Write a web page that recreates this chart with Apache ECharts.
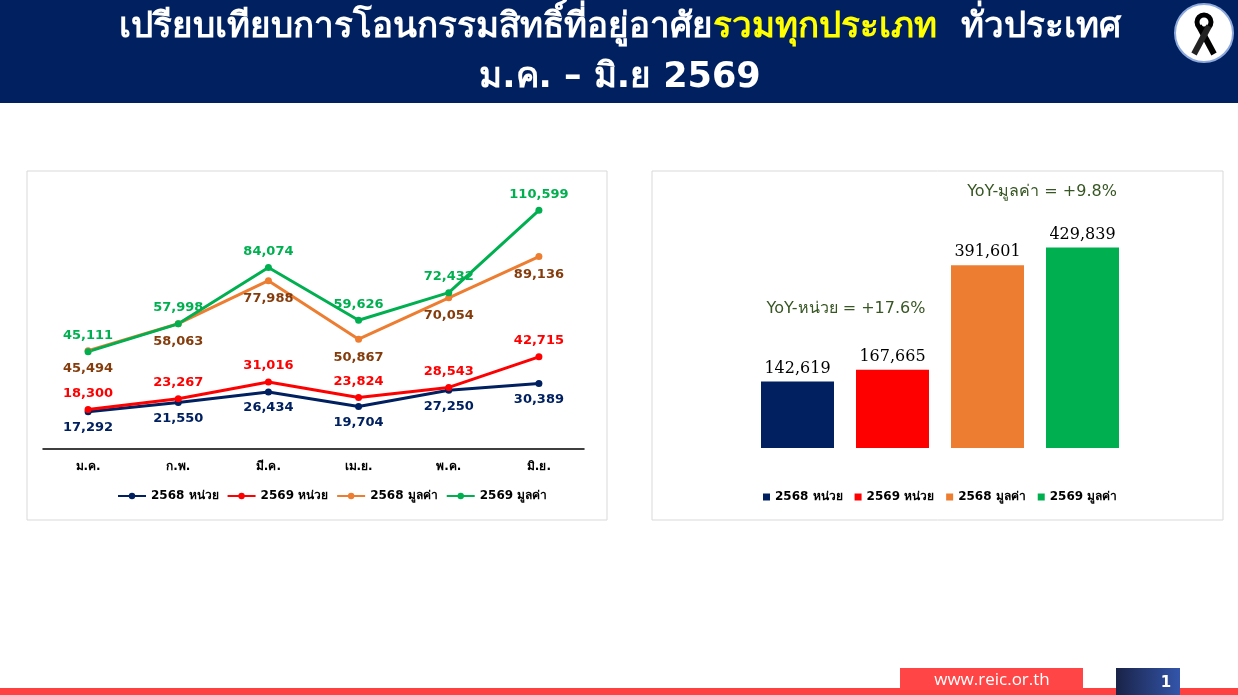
<!DOCTYPE html><html><head><meta charset="utf-8">
<script src="https://cdn.jsdelivr.net/npm/echarts@6/dist/echarts.min.js"></script>
<style>body{margin:0}#c{width:1238px;height:695px}</style></head><body><div id="c"></div><script>
const months=['ม.ค.','ก.พ.','มี.ค.','เม.ย.','พ.ค.','มิ.ย.'];
const units2568=[17292,21550,26434,19704,27250,30389];
const units2569=[18300,23267,31016,23824,28543,42715];
const value2568=[45494,58063,77988,50867,70054,89136];
const value2569=[45111,57998,84074,59626,72432,110599];
const totalNames=['2568 หน่วย','2569 หน่วย','2568 มูลค่า','2569 มูลค่า'];
const totals=[142619,167665,391601,429839];
const colors=['#002060','#ff0000','#ed7d31','#00b050'];
const labelColors=['#002060','#ff0000','#843c0c','#00b050'];
const F='Tahoma, "DejaVu Sans", sans-serif';
const c=echarts.init(document.getElementById('c'));
const lineSeries=[units2568,units2569,value2568,value2569].map((d,i)=>({
 name:totalNames[i],type:'line',data:d,xAxisIndex:0,yAxisIndex:0,symbol:'circle',symbolSize:7,
 lineStyle:{width:3,color:colors[i]},itemStyle:{color:colors[i]},
 label:{show:true,position:(i%2==0)?'bottom':'top',distance:(i==2?8:6),color:labelColors[i],fontFamily:F,fontSize:13,fontWeight:'bold',formatter:p=>p.value.toLocaleString('en-US')}
}));
const barSeries=totals.map((v,i)=>({
 name:totalNames[i]+' ',type:'bar',xAxisIndex:1,yAxisIndex:1,stack:'b',barWidth:73,
 data:totals.map((x,j)=>j==i?x:'-'),itemStyle:{color:colors[i]},
 label:{show:true,position:'top',color:'#000',fontFamily:'"DejaVu Serif", serif',fontSize:16,formatter:p=>p.value.toLocaleString('en-US')}
}));
c.setOption({
 animation:false,
 graphic:[
  {type:'rect',shape:{x:0,y:0,width:1238,height:103},style:{fill:'#002060'}},
  {type:'text',x:620,y:28,style:{rich:{w:{fill:'#fff',fontSize:35,fontWeight:'bold',fontFamily:F},y:{fill:'#ffff00',fontSize:35,fontWeight:'bold',fontFamily:F}},text:'{w|เปรียบเทียบการโอนกรรมสิทธิ์ที่อยู่อาศัย}{y|รวมทุกประเภท}{w|  ทั่วประเทศ}',align:'center',verticalAlign:'middle'}},
  {type:'text',x:620,y:78,style:{text:'ม.ค. – มิ.ย 2569',fill:'#fff',fontSize:35,fontWeight:'bold',fontFamily:F,align:'center',verticalAlign:'middle'}},
  {type:'circle',shape:{cx:1204,cy:33,r:29},style:{fill:'#fff',stroke:'#8ea9db',lineWidth:2}},
  {type:'circle',shape:{cx:1204,cy:22,r:7},style:{fill:'none',stroke:'#000',lineWidth:5}},
  {type:'polyline',shape:{points:[[1199,26],[1214,54]]},style:{stroke:'#000',lineWidth:6}},
  {type:'polyline',shape:{points:[[1209,26],[1194,54]]},style:{stroke:'#222',lineWidth:6}},
  {type:'rect',shape:{x:27,y:171,width:580,height:349},style:{fill:'none',stroke:'#d9d9d9',lineWidth:1}},
  {type:'rect',shape:{x:652,y:171,width:571,height:349},style:{fill:'none',stroke:'#d9d9d9',lineWidth:1}},
  {type:'text',x:1042,y:192,style:{text:'YoY-มูลค่า = +9.8%',fill:'#375623',fontSize:16,fontFamily:F,align:'center',verticalAlign:'middle'}},
  {type:'text',x:846,y:309,style:{text:'YoY-หน่วย = +17.6%',fill:'#375623',fontSize:16,fontFamily:F,align:'center',verticalAlign:'middle'}},
  {type:'rect',shape:{x:0,y:688,width:1238,height:7},style:{fill:'#ff4040'}},
  {type:'rect',shape:{x:900,y:668,width:183,height:22},style:{fill:'#ff4545'}},
  {type:'text',x:992,y:680,style:{text:'www.reic.or.th',fill:'#fff',fontSize:17,fontFamily:'"Open Sans", sans-serif',align:'center',verticalAlign:'middle'}},
  {type:'rect',shape:{x:1116,y:668,width:64,height:27},style:{fill:{type:'linear',x:0,y:0,x2:1,y2:0,colorStops:[{offset:0,color:'#1a2348'},{offset:1,color:'#3355aa'}]}}},
  {type:'text',x:1166,y:683,style:{text:'1',fill:'#fff',fontSize:15,fontWeight:'bold',fontFamily:F,align:'center',verticalAlign:'middle'}}
 ],
 legend:[
  {data:totalNames,left:112,top:485,itemWidth:28,itemHeight:8,itemGap:8,textStyle:{fontFamily:F,fontSize:12,fontWeight:'bold',color:'#000'},itemStyle:{borderWidth:0}},
  {data:totalNames.map(n=>n+' '),left:758,top:486,itemWidth:7,itemHeight:7,itemGap:12,icon:'rect',textStyle:{fontFamily:F,fontSize:12,fontWeight:'bold',color:'#000'},formatter:n=>n.trim()}
 ],
 grid:[{left:43,right:654,top:190,bottom:246},{left:750,right:108,top:238,bottom:247}],
 xAxis:[{type:'category',gridIndex:0,data:months,axisTick:{show:false},axisLine:{lineStyle:{color:'#000',width:1.5}},axisLabel:{margin:12,color:'#000',fontFamily:F,fontSize:12,fontWeight:'bold'}},
  {type:'category',gridIndex:1,data:totalNames,show:false}],
 yAxis:[{type:'value',gridIndex:0,min:0,max:120000,show:false,splitLine:{show:false}},
  {type:'value',gridIndex:1,min:0,max:450000,show:false,splitLine:{show:false}}],
 series:[...lineSeries,...barSeries]
});
</script></body></html>
